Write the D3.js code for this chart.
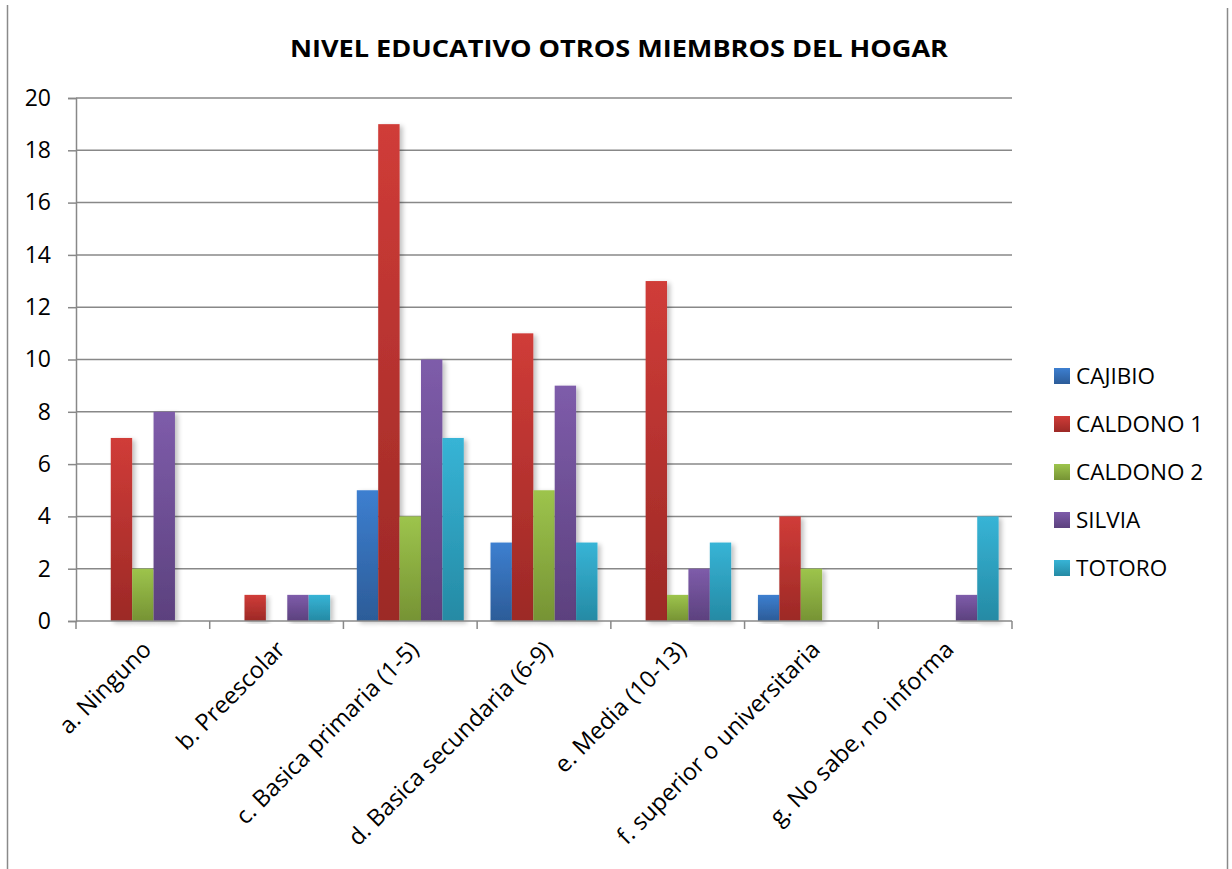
<!DOCTYPE html>
<html>
<head>
<meta charset="utf-8">
<script src="https://cdn.jsdelivr.net/npm/d3@7"></script>
<style>
  body { margin: 0; background: #fff; }
  text { font-family: "Open Sans", "Noto Sans", sans-serif; fill: #000; }
</style>
</head>
<body>
<svg id="chart" width="1232" height="869"></svg>
<script>
{
  const categories = [
    'a. Ninguno',
    'b. Preescolar',
    'c. Basica primaria (1-5)',
    'd. Basica secundaria (6-9)',
    'e. Media (10-13)',
    'f. superior o universitaria',
    'g. No sabe, no informa'
  ];
  const seriesNames = ['CAJIBIO', 'CALDONO 1', 'CALDONO 2', 'SILVIA', 'TOTORO'];
  const cajibio = [0, 0, 5, 3, 0, 1, 0];
  const caldono1 = [7, 1, 19, 11, 13, 4, 0];
  const caldono2 = [2, 0, 4, 5, 1, 2, 0];
  const silvia = [8, 1, 10, 9, 2, 0, 1];
  const totoro = [0, 1, 7, 3, 3, 0, 4];
  const yTicks = [0, 2, 4, 6, 8, 10, 12, 14, 16, 18, 20];

  const seriesValues = [cajibio, caldono1, caldono2, silvia, totoro];
  const TOP_COLORS = ['#3d7fd0', '#d03c38', '#9dc44c', '#7e5caa', '#37b4d6'];
  const BOTTOM_COLORS = ['#2c5c98', '#9c2926', '#769334', '#5c417e', '#258aa4'];
  const GRID = '#888';

  const svg = d3.select('#chart');
  const left = 76, right = 1012, top = 98, bottom = 621;

  const x = d3.scaleBand().domain(categories).range([left, right]);
  const barW = x.bandwidth() / 6.25;
  const xs = d3.scaleBand().domain(seriesNames)
    .range([barW * 0.625, barW * 0.625 + barW * 5]);
  const y = d3.scaleLinear().domain([0, 20]).range([bottom, top]);

  const defs = svg.append('defs');
  seriesNames.forEach((name, i) => {
    const g = defs.append('linearGradient')
      .attr('id', 'grad-' + i)
      .attr('x1', 0).attr('y1', 0).attr('x2', 0).attr('y2', 1);
    g.append('stop').attr('offset', '0%').attr('stop-color', TOP_COLORS[i]);
    g.append('stop').attr('offset', '100%').attr('stop-color', BOTTOM_COLORS[i]);
  });
  const blur = defs.append('filter').attr('id', 'shadow')
    .attr('x', '-20%').attr('y', '-5%').attr('width', '160%').attr('height', '115%');
  blur.append('feGaussianBlur').attr('in', 'SourceAlpha').attr('stdDeviation', 2.5);
  blur.append('feOffset').attr('dx', 3).attr('dy', 2).attr('result', 'b');
  blur.append('feComponentTransfer').append('feFuncA').attr('type', 'linear').attr('slope', 0.25);
  const merge = blur.append('feMerge');
  merge.append('feMergeNode');
  merge.append('feMergeNode').attr('in', 'SourceGraphic');

  // frame (only left and right edges show)
  svg.append('line').attr('x1', 7.5).attr('x2', 7.5).attr('y1', 5).attr('y2', 869)
    .attr('stroke', '#8a8a8a').attr('stroke-width', 1.5);
  svg.append('line').attr('x1', 1227.5).attr('x2', 1227.5).attr('y1', 8).attr('y2', 869)
    .attr('stroke', '#8a8a8a').attr('stroke-width', 1.5);

  // title
  svg.append('text')
    .attr('x', 619).attr('y', 57)
    .attr('text-anchor', 'middle')
    .style('font-size', '24px').style('font-weight', 'bold')
    .attr('textLength', 658).attr('lengthAdjust', 'spacingAndGlyphs')
    .text('NIVEL EDUCATIVO OTROS MIEMBROS DEL HOGAR');

  // gridlines + y axis
  svg.append('g').selectAll('line.grid')
    .data(yTicks.filter(d => d > 0))
    .join('line')
      .attr('x1', left).attr('x2', right)
      .attr('y1', d => y(d)).attr('y2', d => y(d))
      .attr('stroke', GRID).attr('stroke-width', 1.5);

  const yAxis = svg.append('g').attr('transform', `translate(${left},0)`)
    .call(d3.axisLeft(y).tickValues(yTicks).tickSize(8).tickPadding(17));
  yAxis.select('.domain').attr('stroke', GRID).attr('stroke-width', 1.5);
  yAxis.selectAll('.tick line').attr('stroke', GRID).attr('stroke-width', 1.5);
  yAxis.selectAll('.tick text')
    .style('font-size', '23px')
    .style('font-family', '"Open Sans", "Noto Sans", sans-serif')
    .attr('fill', '#000');

  // bars
  const groups = svg.append('g').selectAll('g.cat')
    .data(categories)
    .join('g')
      .attr('transform', d => `translate(${x(d)},0)`);

  groups.selectAll('rect')
    .data((c, ci) => seriesNames.map((s, si) => ({ s, si, v: seriesValues[si][ci] })))
    .join('rect')
      .filter(d => d.v > 0)
      .attr('x', d => xs(d.s))
      .attr('y', d => y(d.v))
      .attr('width', xs.bandwidth())
      .attr('height', d => y(0) - y(d.v))
      .attr('fill', d => `url(#grad-${d.si})`)
      .attr('filter', 'url(#shadow)');

  // x axis
  const xAxis = svg.append('g').attr('transform', `translate(0,${bottom})`);
  xAxis.append('line').attr('x1', left).attr('x2', right)
    .attr('stroke', GRID).attr('stroke-width', 1.5);
  const edges = categories.map(c => x(c)).concat([right]);
  xAxis.selectAll('line.tick')
    .data(edges)
    .join('line')
      .attr('x1', d => d).attr('x2', d => d)
      .attr('y1', 0).attr('y2', 8)
      .attr('stroke', GRID).attr('stroke-width', 1.5);
  xAxis.selectAll('text')
    .data(categories)
    .join('text')
      .attr('transform', d => `translate(${x(d) + x.bandwidth() / 2 + 10},${30}) rotate(-45)`)
      .attr('text-anchor', 'end')
      .style('font-size', '23.5px')
      .text(d => d);

  // legend
  const legend = svg.append('g').attr('transform', 'translate(1054,376)');
  const item = legend.selectAll('g')
    .data(seriesNames)
    .join('g')
      .attr('transform', (d, i) => `translate(0,${i * 48})`);
  item.append('rect')
    .attr('x', 0).attr('y', -8).attr('width', 16).attr('height', 16)
    .attr('fill', (d, i) => `url(#grad-${i})`);
  item.append('text')
    .attr('x', 22).attr('y', 8)
    .style('font-size', '22.5px')
    .text(d => d);
}
</script>
</body>
</html>
